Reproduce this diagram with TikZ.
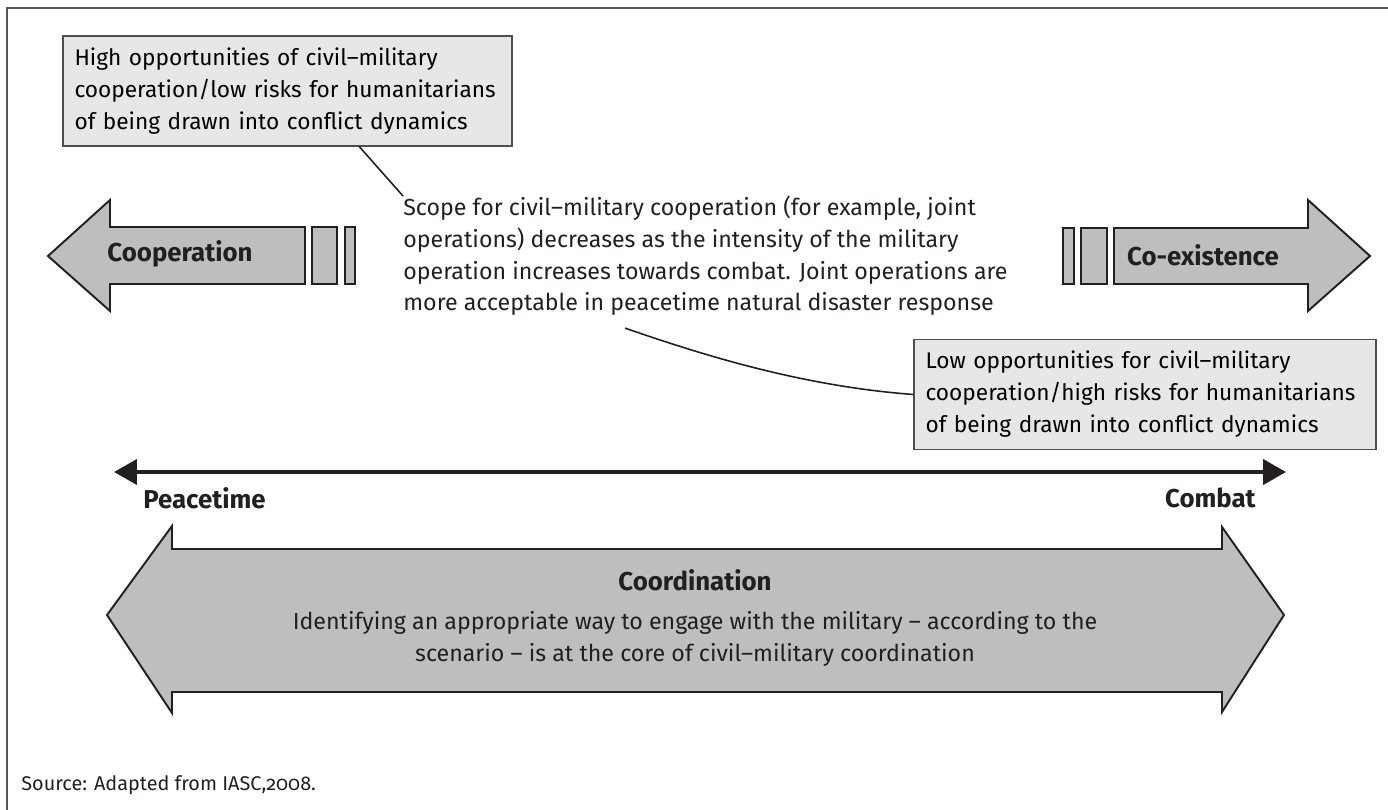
\documentclass[tikz,border=0pt]{standalone}
\usepackage{fontspec}
\setmainfont{Fira Sans}[Numbers=OldStyle]
\usetikzlibrary{arrows.meta,calc}

\definecolor{arrowgray}{HTML}{BCBEC0}
\definecolor{boxgray}{HTML}{E6E7E8}
\definecolor{inkline}{HTML}{231F20}

\begin{document}
\begin{tikzpicture}[x=0.02cm, y=-0.02cm,
    bigarrow/.style={fill=arrowgray, draw=inkline, line width=1.1pt},
    notebox/.style={fill=boxgray, draw=inkline!80, line width=0.8pt, align=left,
        inner xsep=0.23cm, minimum height=2.2cm,
        font=\fontsize{12.9}{18.2}\selectfont},
    bodytext/.style={font=\fontsize{13.2}{18}\selectfont, text=inkline, inner sep=0pt},
    boldlabel/.style={font=\fontsize{14.7}{16}\selectfont\bfseries, text=inkline},
    leader/.style={draw=inkline, line width=0.9pt}]
    \useasboundingbox (0,0) rectangle (1388,810);
    % frame
    \draw[inkline!75, line width=1.3pt] (7,810) -- (7,8) -- (1388,8);

    % notes
    \node[notebox, text width=8.52cm, minimum width=8.98cm] (hiBox) at (287.5,91)
        {High opportunities of civil–military\\cooperation/low risks for humanitarians\\of being drawn into conflict dynamics};
    \node[notebox, text width=8.78cm, minimum width=9.24cm] (loBox) at (1145,394.5)
        {Low opportunities for civil–military\\cooperation/high risks for humanitarians\\of being drawn into conflict dynamics};
    \node[bodytext, align=left, anchor=north west] (scopeText) at (403,196)
        {Scope for civil–military cooperation (for example, joint\\operations) decreases as the intensity of the military\\operation increases towards combat. Joint operations are\\more acceptable in peacetime natural disaster response};

    % leaders
    \coordinate (hiFoot) at ($(hiBox.south west)+(297,0)$);
    \coordinate (scopeFoot) at ($(scopeText.south west)+(222,12)$);
    \draw[leader] (hiFoot) -- (scopeText.north west);
    \draw[leader] (scopeFoot) .. controls (700,354) and (800,386) .. (loBox.west);

    % cooperation arrow
    \draw[bigarrow] (48,256) -- (110,200) -- (110,227) -- (305,227) -- (305,284)
        -- (110,284) -- (110,311) -- cycle;
    \draw[bigarrow] (312,227) rectangle (337,284);
    \draw[bigarrow] (345,227) rectangle (355,284);
    \node[boldlabel] (coopLabel) at (180,254) {Cooperation};

    % co-existence arrow
    \draw[bigarrow] (1370,256) -- (1308,200) -- (1308,228) -- (1114,228) -- (1114,284)
        -- (1308,284) -- (1308,311) -- cycle;
    \draw[bigarrow] (1081,228) rectangle (1107,284);
    \draw[bigarrow] (1063,228) rectangle (1074,284);
    \node[boldlabel] (coexLabel) at (1203,255) {Co-existence};

    % scale
    \coordinate (peaceEnd) at (114,472);
    \coordinate (combatEnd) at (1286,472);
    \draw[inkline, line width=2.3pt, {Triangle[length=0.46cm,width=0.5cm]}-{Triangle[length=0.46cm,width=0.5cm]}]
        (peaceEnd) -- (combatEnd);
    \node[boldlabel, anchor=west, inner sep=0pt] (peaceLabel) at (143,498) {Peacetime};
    \node[boldlabel, anchor=east, inner sep=0pt] (combatLabel) at (1256,498) {Combat};

    % coordination arrow
    \draw[bigarrow] (107,615) -- (172,526) -- (172,549) -- (1222,549) -- (1222,527)
        -- (1284,615) -- (1222,712) -- (1222,692) -- (172,692) -- (172,713) -- cycle;
    \node[boldlabel] (coordTitle) at (695,580) {Coordination};
    \node[bodytext, align=center] (coordText) at (695,639)
        {Identifying an appropriate way to engage with the military – according to the\\scenario – is at the core of civil–military coordination};

    \node[bodytext, anchor=west, font=\fontsize{11.3}{13}\selectfont] (sourceNote) at (21,785)
        {Source: Adapted from IASC,2008.};
\end{tikzpicture}
\end{document}
